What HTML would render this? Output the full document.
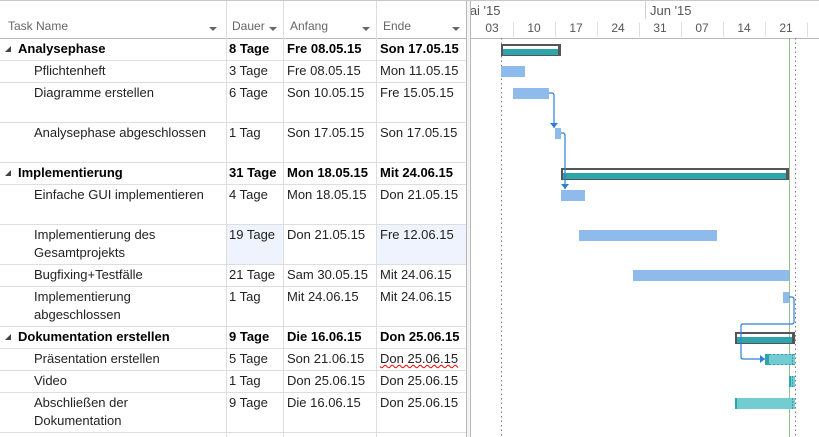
<!DOCTYPE html>
<html><head><meta charset="utf-8"><style>
body{margin:0;width:819px;height:437px;overflow:hidden;background:#fff;font-family:"Liberation Sans",sans-serif;}
#wrap{position:relative;width:819px;height:437px;}
.cell{position:absolute;font-size:13px;color:#222;white-space:nowrap;line-height:18px;}
.b{font-weight:bold;color:#000;}
.hd{position:absolute;font-size:12px;color:#666;top:19px;}
</style></head><body>
<div id="wrap">
<svg id="grid" width="819" height="437" style="position:absolute;left:0;top:0"></svg>
<div id="table"></div>
</div>
<script>
const taskNames=["Analysephase","Pflichtenheft","Diagramme erstellen","Analysephase abgeschlossen","Implementierung","Einfache GUI implementieren","Implementierung des|Gesamtprojekts","Bugfixing+Testfälle","Implementierung|abgeschlossen","Dokumentation erstellen","Präsentation erstellen","Video","Abschließen der|Dokumentation"];
const durations=["8 Tage","3 Tage","6 Tage","1 Tag","31 Tage","4 Tage","19 Tage","21 Tage","1 Tag","9 Tage","5 Tage","1 Tag","9 Tage"];
const startLabels=["Fre 08.05.15","Fre 08.05.15","Son 10.05.15","Son 17.05.15","Mon 18.05.15","Mon 18.05.15","Don 21.05.15","Sam 30.05.15","Mit 24.06.15","Die 16.06.15","Son 21.06.15","Don 25.06.15","Die 16.06.15"];
const endLabels=["Son 17.05.15","Mon 11.05.15","Fre 15.05.15","Son 17.05.15","Mit 24.06.15","Don 21.05.15","Fre 12.06.15","Mit 24.06.15","Mit 24.06.15","Don 25.06.15","Don 25.06.15","Don 25.06.15","Don 25.06.15"];
const kinds=["summary","task","task","task","summary","task","task","task","task","summary","task2","task2","task2"];
const rowHeights=[22,22,40,40,22,40,40,22,40,22,22,22,40];
const weekLabels=["03","10","17","24","31","07","14","21"];
const monthLabels=["Mai '15","Jun '15"];
const monthStartDays=[-2,29];
const todayDay=53, projEndDay=54, projStartDay=5;

const svg=document.getElementById('grid'), tbl=document.getElementById('table');
const NS="http://www.w3.org/2000/svg";
const X0=471, DAY=6, HEAD=38;
function dayOf(lbl){const p=lbl.split(' ')[1].split('.');const d=+p[0],m=+p[1];return m===5?d-3:d+28;}
function xDay(d){return X0+d*DAY;}
function el(t,a){const e=document.createElementNS(NS,t);for(const k in a)e.setAttribute(k,a[k]);svg.appendChild(e);return e;}
const tops=[];let y=HEAD;rowHeights.forEach(h=>{tops.push(y);y+=h;});
const cols=[0,226,283,376,466];
const hl1=el('rect',{x:227,y:tops[6],width:56,height:40,fill:'#eef3fd'});

const hl2=el('rect',{x:377,y:tops[6],width:89,height:40,fill:'#eef3fd'});

el('line',{x1:0,y1:0.5,x2:819,y2:0.5,stroke:'#c8c8c8'});
el('line',{x1:0,y1:HEAD+0.5,x2:466,y2:HEAD+0.5,stroke:'#b8b8b8'});
el('line',{x1:471,y1:HEAD+0.5,x2:819,y2:HEAD+0.5,stroke:'#b8b8b8'});
tops.forEach((t,i)=>{if(i>0)el('line',{x1:0,y1:t+0.5,x2:466,y2:t+0.5,stroke:'#dedede'});});
el('line',{x1:0,y1:432.5,x2:466,y2:432.5,stroke:'#dedede'});
cols.slice(1).forEach(c=>el('line',{x1:c+0.5,y1:0,x2:c+0.5,y2:437,stroke:'#dedede'}));
const hdr=[["Task Name",8],["Dauer",232],["Anfang",290],["Ende",383]];
hdr.forEach(h=>{const d=document.createElement('div');d.className='hd';d.style.left=h[1]+'px';d.textContent=h[0];

tbl.appendChild(d);});
[[213],[273],[366],[456]].forEach(a=>{const p=el('path',{d:`M${a[0]-4} 27 h8 l-4 4z`,fill:'#666'});});
monthLabels.forEach((m,i)=>{const x=xDay(monthStartDays[i]);
 if(i>0)el('line',{x1:x+0.5,y1:0,x2:x+0.5,y2:19,stroke:'#d0d0d0'});
 const t=el('text',{x:i===0?459:x+5,y:15,'font-size':13,fill:'#555'});t.textContent=m;
 });
el('rect',{x:440,y:0,width:31,height:19,fill:'#fff'});
el('line',{x1:466.5,y1:0,x2:466.5,y2:437,stroke:'#b8b8b8'});el('rect',{x:467,y:0,width:3,height:437,fill:'#f4f4f4'});el('line',{x1:470.5,y1:0,x2:470.5,y2:437,stroke:'#b8b8b8'});
el('line',{x1:0,y1:0.5,x2:819,y2:0.5,stroke:'#c8c8c8'});
weekLabels.forEach((w,i)=>{const x=xDay(i*7);
 el('line',{x1:x+42.5,y1:22,x2:x+42.5,y2:37,stroke:'#e0e0e0'});
 const t=el('text',{x:x+21,y:32,'font-size':12,fill:'#555','text-anchor':'middle'});t.textContent=w;
 });
el('line',{x1:xDay(projStartDay)+0.5,y1:HEAD,x2:xDay(projStartDay)+0.5,y2:437,stroke:'#777','stroke-dasharray':'1.5,3'});
el('line',{x1:xDay(projEndDay)+0.5,y1:HEAD,x2:xDay(projEndDay)+0.5,y2:437,stroke:'#777','stroke-dasharray':'1.5,3'});
const tl=el('line',{x1:xDay(todayDay)+0.5,y1:HEAD,x2:xDay(todayDay)+0.5,y2:437,stroke:'#8fc08f'});

taskNames.forEach((n,i)=>{const t=tops[i];const s=kinds[i]==='summary';
 const mk=(txt,x,name)=>{const d=document.createElement('div');d.className='cell'+(s?' b':'');d.style.left=x+'px';d.style.top=(t+2)+'px';d.innerHTML=txt.replace('|','<br>');
  tbl.appendChild(d);return d;};
 mk(n,s?18:34,'task-name-'+i);
 mk(durations[i],229,'duration-'+i);mk(startLabels[i],287,'start-'+i);
 const e=mk(endLabels[i],380,'end-'+i);
 if(i===10){e.style.textDecoration='underline wavy red';e.style.textDecorationThickness='1px';}
 if(s){const p=el('path',{d:`M5 ${t+14} l6 -6 v6z`,fill:'#444'});}
 const x1=xDay(dayOf(startLabels[i])), x2=xDay(dayOf(endLabels[i])+1);
 if(s){
  el('rect',{x:x1+1,y:t+7,width:x2-x1-2,height:10,fill:'none',stroke:'#555','stroke-width':2});
  const f=el('rect',{x:x1+1,y:t+11,width:x2-x1-2,height:6,fill:'#2ea5ad'});
  el('rect',{x:x1,y:t+6,width:2,height:12,fill:'#555'});
  el('rect',{x:x2-3,y:t+6,width:3,height:12,fill:'#555'});
  
 } else {
  const c=kinds[i]==='task'?'#8ebbec':'#74ccd3';
  const b=el('rect',{x:x1,y:t+6,width:x2-x1,height:11,fill:c});
  
  if(kinds[i]==='task2'){el('rect',{x:x1,y:t+6,width:2,height:11,fill:'#2ea5ad'});
   el('line',{x1:x2-2.5,y1:t+6,x2:x2-2.5,y2:t+17,stroke:'#2ea5ad','stroke-dasharray':'2,1'});
   if(i===10){el('line',{x1:x1,y1:t+6.5,x2:x2,y2:t+6.5,stroke:'#2ea5ad','stroke-dasharray':'2,2'});el('line',{x1:x1,y1:t+16.5,x2:x2,y2:t+16.5,stroke:'#2ea5ad','stroke-dasharray':'2,2'});el('rect',{x:x1,y:t+6,width:4,height:11,fill:'#2ea5ad'});}}
 }
});
function link(d,ax,ay,dir){const p=el('path',{d:d,fill:'none',stroke:'#2f7fd6','stroke-width':1.2});
 if(dir==='down')el('path',{d:`M${ax-4} ${ay-5} h8 l-4 5z`,fill:'#2f7fd6'});else el('path',{d:`M${ax-5} ${ay-4} v8 l5 -4z`,fill:'#2f7fd6'});}
const e2=xDay(dayOf(endLabels[2])+1), e3=xDay(dayOf(endLabels[3])+1), e8=xDay(dayOf(endLabels[8])+1), s10=xDay(dayOf(startLabels[10]));
link(`M${e2} ${tops[2]+11} h3 q2 0 2 3 V${tops[3]+6}`,e2+5,tops[3]+6,'down');
link(`M${e3} ${tops[3]+11} h2 q2 0 2 3 V${tops[5]+5}`,e3+4,tops[5]+5,'down');
link(`M${e8} ${tops[8]+11} h3 q2 0 2 3 V${tops[9]-4} q0 2 -2 2 H${s10-22} q-2 0 -2 2 V${tops[10]+9} q0 2 2 2 H${s10}`,s10,tops[10]+11,'right');
</script>
</body></html>
